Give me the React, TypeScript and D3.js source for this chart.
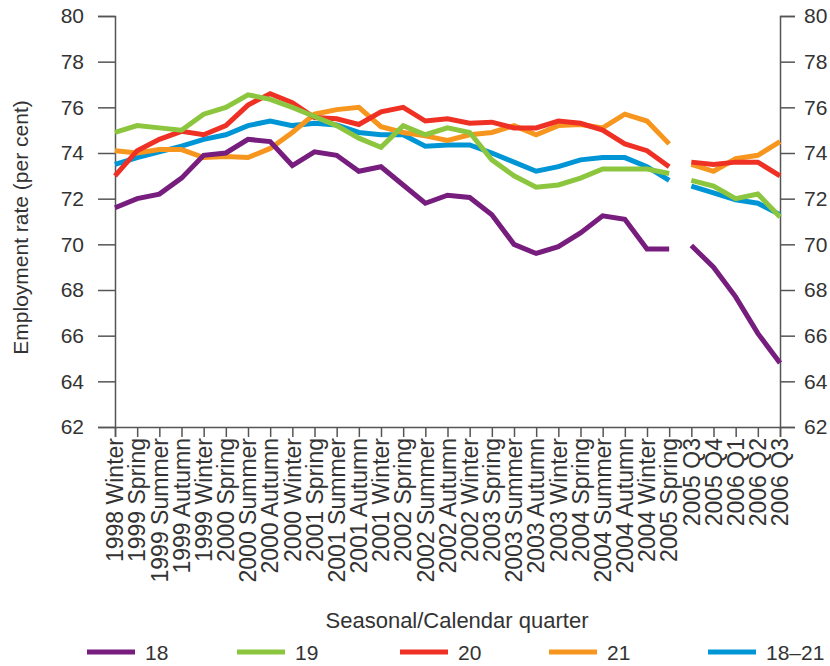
import React, { useRef, useLayoutEffect } from 'react';
import * as d3 from 'd3';

const quarters = [
  '1998 Winter', '1999 Spring', '1999 Summer', '1999 Autumn', '1999 Winter',
  '2000 Spring', '2000 Summer', '2000 Autumn', '2000 Winter', '2001 Spring',
  '2001 Summer', '2001 Autumn', '2001 Winter', '2002 Spring', '2002 Summer',
  '2002 Autumn', '2002 Winter', '2003 Spring', '2003 Summer', '2003 Autumn',
  '2003 Winter', '2004 Spring', '2004 Summer', '2004 Autumn', '2004 Winter',
  '2005 Spring', '2005 Q3', '2005 Q4', '2006 Q1', '2006 Q2', '2006 Q3',
];
// the series switch from seasonal to calendar quarters here, lines break
const breakAt = 26;

const age18 = [
  71.6, 72.0, 72.2, 72.9, 73.9, 74.0, 74.6, 74.5, 73.45, 74.05,
  73.9, 73.2, 73.4, 72.6, 71.8, 72.15, 72.05, 71.3, 70.0, 69.6,
  69.9, 70.5, 71.25, 71.1, 69.8, 69.8, 69.95, 69.0, 67.7, 66.1, 64.8,
];
const age19 = [
  74.9, 75.2, 75.1, 75.0, 75.7, 76.0, 76.55, 76.35, 76.0, 75.6,
  75.2, 74.65, 74.25, 75.2, 74.8, 75.1, 74.9, 73.7, 73.0, 72.5,
  72.6, 72.9, 73.3, 73.3, 73.3, 73.1, 72.8, 72.55, 72.0, 72.2, 71.2,
];
const age20 = [
  73.0, 74.1, 74.6, 74.95, 74.8, 75.2, 76.1, 76.6, 76.2, 75.55,
  75.5, 75.25, 75.8, 76.0, 75.4, 75.5, 75.3, 75.35, 75.1, 75.1,
  75.4, 75.3, 75.0, 74.4, 74.1, 73.4, 73.6, 73.5, 73.6, 73.6, 73.0,
];
const age21 = [
  74.1, 74.0, 74.15, 74.15, 73.8, 73.85, 73.8, 74.2, 74.9, 75.7,
  75.9, 76.0, 75.15, 74.9, 74.75, 74.55, 74.8, 74.9, 75.2, 74.8,
  75.2, 75.25, 75.1, 75.7, 75.4, 74.4, 73.5, 73.2, 73.75, 73.9, 74.5,
];
const age18to21 = [
  73.5, 73.8, 74.05, 74.3, 74.6, 74.8, 75.2, 75.4, 75.2, 75.3,
  75.23, 74.9, 74.8, 74.8, 74.3, 74.35, 74.35, 74.0, 73.6, 73.2,
  73.4, 73.7, 73.8, 73.8, 73.4, 72.8, 72.55, 72.25, 71.95, 71.8, 71.3,
];

const seriesNames = ['18', '19', '20', '21', '18–21'];
const seriesValues = [age18, age19, age20, age21, age18to21];
const seriesColors = ['#761d7e', '#8cc63f', '#ee3124', '#f7961e', '#0095d4'];

const yTicks = [62, 64, 66, 68, 70, 72, 74, 76, 78, 80];

const App = () => {
  const ref = useRef<SVGSVGElement>(null);
  const width = 830;
  const height = 666;

  useLayoutEffect(() => {
    const svg = d3.select(ref.current);
    svg.selectAll('*').remove();

    const left = 115;
    const right = 780;
    const top = 16;
    const bottom = 427;
    const font = '"Liberation Sans", Arial, sans-serif';
    const ink = '#333';

    const x = d3.scalePoint<string>().domain(quarters).range([left, right]);
    const y = d3.scaleLinear().domain([62, 80]).range([bottom, top]);

    // axes
    const axisL = d3.axisLeft(y).tickValues(yTicks).tickSize(17).tickPadding(14);
    const axisR = d3.axisRight(y).tickValues(yTicks).tickSize(15).tickPadding(9);
    const axisB = d3.axisBottom(x).tickSize(10).tickFormat(() => '');

    const styleAxis = (g: any) => {
      g.select('.domain').attr('stroke', '#555').attr('stroke-width', 1.5);
      g.selectAll('.tick line').attr('stroke', '#555').attr('stroke-width', 1.5);
      g.selectAll('.tick text')
        .attr('fill', ink)
        .style('font-family', font)
        .style('font-size', '21px');
    };

    svg.append('g').attr('transform', `translate(${left},0)`).call(axisL).call(styleAxis);
    svg.append('g').attr('transform', `translate(${right},0)`).call(axisR).call(styleAxis);
    svg.append('g').attr('transform', `translate(0,${bottom})`).call(axisB).call(styleAxis);

    // rotated category labels
    svg
      .append('g')
      .selectAll('text')
      .data(quarters)
      .enter()
      .append('text')
      .attr('transform', (d) => `translate(${x(d)}, ${bottom + 11}) rotate(-90)`)
      .attr('dy', '0.36em')
      .attr('text-anchor', 'end')
      .attr('fill', ink)
      .style('font-family', font)
      .style('font-size', '23px')
      .text((d) => d);

    // lines, two pieces each because of the break
    const line = d3
      .line<number | null>()
      .defined((d) => d !== null)
      .x((_, i) => x(quarters[i]) as number)
      .y((d) => y(d as number));

    const order = d3.range(seriesValues.length).reverse();
    order.forEach((s) => {
      const vals = seriesValues[s];
      const pieces = [
        vals.map((v, i) => (i < breakAt ? v : null)),
        vals.map((v, i) => (i >= breakAt ? v : null)),
      ];
      pieces.forEach((p) => {
        svg
          .append('path')
          .attr('d', line(p))
          .attr('fill', 'none')
          .attr('stroke', seriesColors[s])
          .attr('stroke-width', 5)
          .attr('stroke-linejoin', 'miter');
      });
    });

    // axis titles
    svg
      .append('text')
      .attr('transform', `translate(20, ${(top + bottom) / 2 + 6}) rotate(-90)`)
      .attr('dy', '0.36em')
      .attr('text-anchor', 'middle')
      .attr('fill', ink)
      .style('font-family', font)
      .style('font-size', '21px')
      .text('Employment rate (per cent)');

    svg
      .append('text')
      .attr('x', 457)
      .attr('y', 620)
      .attr('dy', '0.36em')
      .attr('text-anchor', 'middle')
      .attr('fill', ink)
      .style('font-family', font)
      .style('font-size', '22px')
      .text('Seasonal/Calendar quarter');

    // legend
    const legendX = [87, 237, 400, 549, 708];
    const legend = svg
      .append('g')
      .selectAll('g')
      .data(seriesNames)
      .enter()
      .append('g')
      .attr('transform', (_, i) => `translate(${legendX[i]}, 652)`);
    legend
      .append('line')
      .attr('x1', 0)
      .attr('x2', 48)
      .attr('stroke', (_, i) => seriesColors[i])
      .attr('stroke-width', 5);
    legend
      .append('text')
      .attr('x', 58)
      .attr('dy', '0.36em')
      .attr('fill', ink)
      .style('font-family', font)
      .style('font-size', '21px')
      .text((d) => d);
  }, []);

  return (
    <svg
      ref={ref}
      width={width}
      height={height}
      style={{ position: 'absolute', left: 0, top: 0, background: '#fff' }}
    />
  );
};

export default App;
